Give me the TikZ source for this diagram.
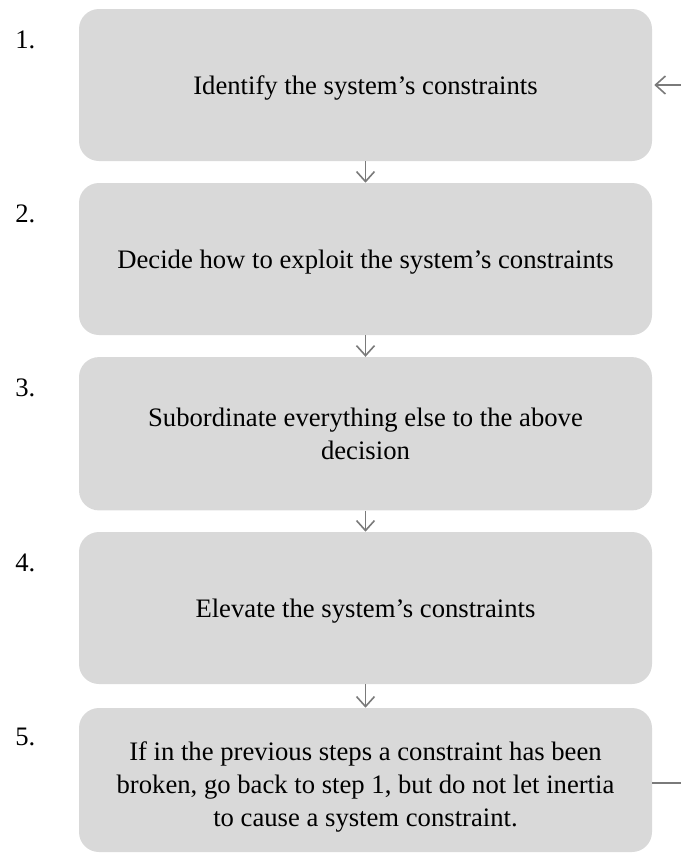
\documentclass[tikz,border=0pt]{standalone}
\usepackage{fontspec}
\setmainfont{Liberation Serif}
\usetikzlibrary{arrows.meta}
\definecolor{boxgray}{HTML}{D9D9D9}
\definecolor{arrowgray}{HTML}{7A7A7A}
\tikzset{
  stepbox/.style={fill=boxgray, draw=none, rounded corners=15pt, minimum width=429.75pt, inner sep=0pt, align=center, font=\fontsize{20}{24.8}\selectfont},
  oneline/.style={text depth=0pt},
  boxtext/.style={inner sep=0pt, align=center, font=\fontsize{20}{24.8}\selectfont},
  num/.style={inner sep=0pt, anchor=base west, font=\fontsize{20}{24}\selectfont},
  flow/.style={draw=arrowgray, line width=1.2pt, -{Straight Barb[length=7.5pt,width=13.5pt,line width=1.2pt]}},
  plain/.style={draw=arrowgray, line width=1.2pt},
}
\begin{document}
\begin{tikzpicture}[x=0.75pt, y=-0.75pt]
\useasboundingbox (0,0) rectangle (681,854);
\node[stepbox, oneline, minimum height=114pt] (b1) at (365.5,85) {Identify the system's constraints};
\node[stepbox, oneline, minimum height=114pt] (b2) at (365.5,259) {Decide how to exploit the system's constraints};
\node[stepbox, minimum height=115pt] (b3) at (365.5,433.75) {Subordinate everything else to the above\\decision};
\node[stepbox, oneline, minimum height=114pt] (b4) at (365.5,608) {Elevate the system's constraints};
\node[stepbox, minimum height=108pt] (b5) at (365.5,780) {};
\node[boxtext] (t5) at (365.5,787) {If in the previous steps a constraint has been\\broken, go back to step 1, but do not let inertia\\to cause a system constraint.};
\node[num] (n1) at (15,48) {1.};
\node[num] (n2) at (15,222) {2.};
\node[num] (n3) at (15,396) {3.};
\node[num] (n4) at (15,571) {4.};
\node[num] (n5) at (15,745) {5.};
\draw[flow] (b1.south) -- (b2.north);
\draw[flow] (b2.south) -- (b3.north);
\draw[flow] (b3.south) -- (b4.north);
\draw[flow] (b4.south) -- (b5.north);
\coordinate (in1) at (681,85);
\coordinate (out5) at (681,783);
\draw[flow] (in1) -- ([xshift=1.5pt]b1.east);
\draw[plain] (b5.east |- out5) -- (out5);
\end{tikzpicture}
\end{document}
